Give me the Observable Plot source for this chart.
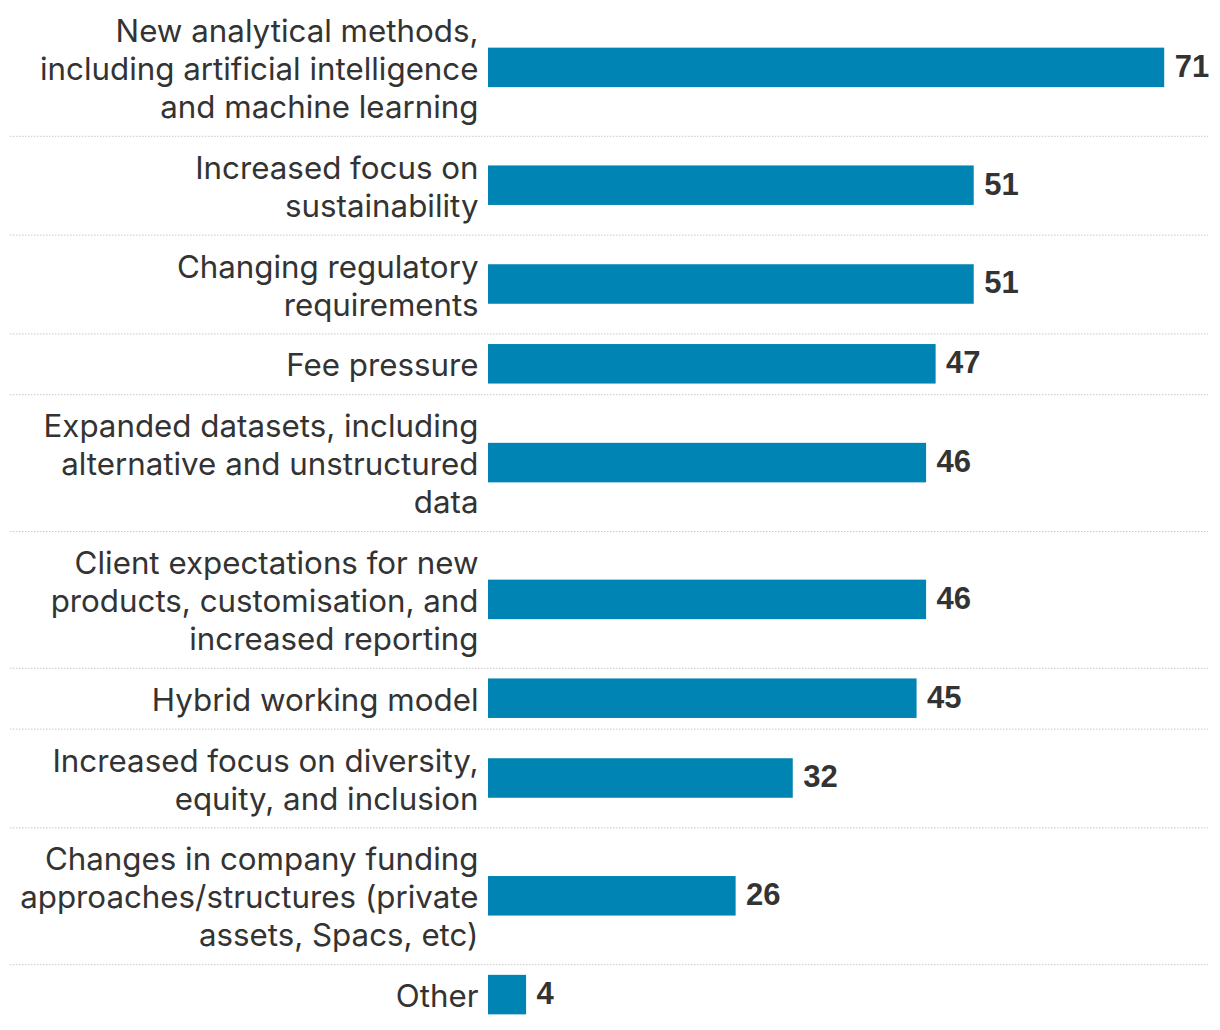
<!DOCTYPE html>
<html><head><meta charset="utf-8">
<script src="https://cdn.jsdelivr.net/npm/d3@7"></script>
<script src="https://cdn.jsdelivr.net/npm/@observablehq/plot@0.6"></script>
<style>body{margin:0;background:#fff}</style>
</head><body><div id="chart"></div>
<script>
const categories = [
  "New analytical methods,\nincluding artificial intelligence\nand machine learning",
  "Increased focus on\nsustainability",
  "Changing regulatory\nrequirements",
  "Fee pressure",
  "Expanded datasets, including\nalternative and unstructured\ndata",
  "Client expectations for new\nproducts, customisation, and\nincreased reporting",
  "Hybrid working model",
  "Increased focus on diversity,\nequity, and inclusion",
  "Changes in company funding\napproaches/structures (private\nassets, Spacs, etc)",
  "Other"
];
const values = [71, 51, 51, 47, 46, 46, 45, 32, 26, 4];

const PAD = 0.6;
let acc = 0;
const rows = categories.map((c, i) => {
  const n = c.split("\n").length;
  const y1 = acc;
  acc += n + PAD;
  return {label: c, value: values[i], y1, y2: acc, mid: (y1 + acc) / 2};
});
const barHalf = 0.52;

const chart = Plot.plot({
  width: 1220, height: 1030,
  marginTop: 0, marginBottom: 0, marginLeft: 10, marginRight: 12,
  style: {fontFamily: "Inter, sans-serif", background: "#fff"},
  x: {domain: [0, 75.6], range: [488, 1208], axis: null},
  y: {domain: [0, acc], range: [-1, -1 + acc * 38], axis: null},
  marks: [
    Plot.ruleY(rows.slice(1), {y: "y1", stroke: "#c8c8c8", strokeDasharray: "1.5,1.5"}),
    Plot.rectX(rows, {x1: 0, x2: "value", y1: d => d.mid - barHalf, y2: d => d.mid + barHalf, fill: "#0084b4"}),
    Plot.text(rows, {x: 0, y: "mid", text: "label", textAnchor: "end", dx: -10, fontSize: 31.3, lineHeight: 1.214, fill: "#333"}),
    Plot.text(rows, {x: "value", y: "mid", text: d => String(d.value), textAnchor: "start", dx: 10, dy: -1, fontSize: 31, fontWeight: "bold", fontFamily: "Liberation Sans, Arial, sans-serif", fill: "#333"})
  ]
});
document.getElementById("chart").appendChild(chart);
</script>
</body></html>
